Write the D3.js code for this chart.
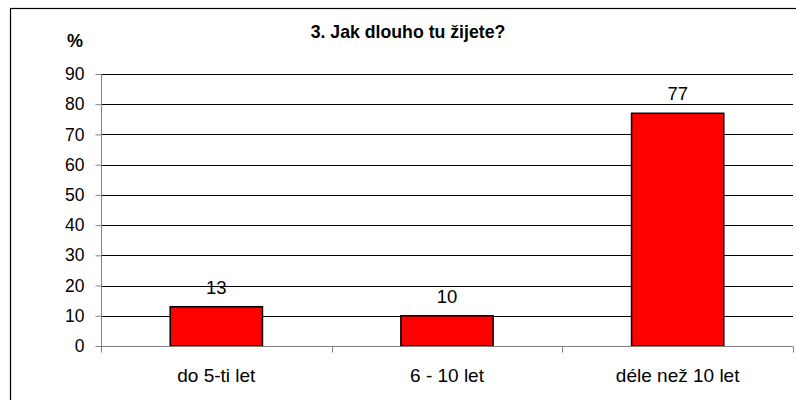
<!DOCTYPE html>
<html><head><meta charset="utf-8">
<script src="https://cdn.jsdelivr.net/npm/d3@7"></script>
<style>body{margin:0;background:#fff}svg{display:block}text{font-family:"Liberation Sans",Arial,sans-serif}</style>
</head><body><svg id="c" width="796" height="400"></svg>
<script>
const categories = ["do 5-ti let", "6 - 10 let", "déle než 10 let"];
const values = [13, 10, 77];
const yTicks = [0, 10, 20, 30, 40, 50, 60, 70, 80, 90];
const title = "3. Jak dlouho tu žijete?";
const yLabel = "%";

(function () {
const svg = d3.select("#c");
const pL = 101, pR = 793, pT = 74, pB = 346;
svg.append("rect").attr("x", 10.5).attr("y", 8.5).attr("width", 800).attr("height", 400)
  .attr("fill", "none").attr("stroke", "#000").attr("stroke-width", 1.2);

const x = d3.scaleBand().domain(categories).range([pL, pR]).paddingInner(0.6).paddingOuter(0.3);
const xc = d3.scaleBand().domain(categories).range([pL, pR]);
const y = d3.scaleLinear().domain([0, 90]).range([pB, pT]);

svg.append("g").selectAll("line").data(yTicks.filter(d => d > 0)).join("line")
  .attr("x1", pL).attr("x2", pR).attr("y1", d => Math.round(y(d)) + 0.5).attr("y2", d => Math.round(y(d)) + 0.5)
  .attr("stroke", "#000").attr("stroke-width", 1);

const ya = svg.append("g").attr("transform", `translate(${pL + 0.5},0)`)
  .call(d3.axisLeft(y).tickValues(yTicks).tickSize(6).tickPadding(11));
ya.select(".domain").attr("stroke", "#808080").attr("d", `M0,${pT}V${pB}`);
ya.selectAll(".tick line").attr("stroke", "#808080");
ya.selectAll(".tick text").attr("font-size", 17.5).attr("fill", "#000").attr("font-family", '"Liberation Sans",Arial,sans-serif');

svg.append("g").selectAll("rect").data(values).join("rect")
  .attr("x", (d, i) => x(categories[i])).attr("width", x.bandwidth())
  .attr("y", d => y(d)).attr("height", d => y(0) - y(d))
  .attr("fill", "#ff0000").attr("stroke", "#000").attr("stroke-width", 1.5);

const xa = svg.append("g").attr("transform", `translate(0,${pB + 0.5})`);
xa.append("line").attr("x1", pL).attr("x2", pR).attr("stroke", "#808080");
xa.selectAll("line.t").data(categories.map(c => xc(c)).concat([pR])).join("line").attr("class", "t")
  .attr("x1", d => Math.round(d) + 0.5).attr("x2", d => Math.round(d) + 0.5).attr("y1", 0).attr("y2", 6).attr("stroke", "#808080");
xa.selectAll("text").data(categories).join("text")
  .attr("x", d => xc(d) + xc.bandwidth() / 2).attr("y", 35).attr("text-anchor", "middle")
  .attr("font-size", 19).text(d => d);

svg.append("g").selectAll("text").data(values).join("text")
  .attr("x", (d, i) => x(categories[i]) + x.bandwidth() / 2).attr("y", d => y(d) - 13)
  .attr("text-anchor", "middle").attr("font-size", 18.5).text(d => d);

svg.append("text").attr("x", 408).attr("y", 38).attr("text-anchor", "middle")
  .attr("font-size", 17.7).attr("font-weight", "bold").text(title);
svg.append("text").attr("x", 75).attr("y", 47).attr("text-anchor", "middle")
  .attr("font-size", 18).attr("font-weight", "bold").text(yLabel);
})();
</script></body></html>
